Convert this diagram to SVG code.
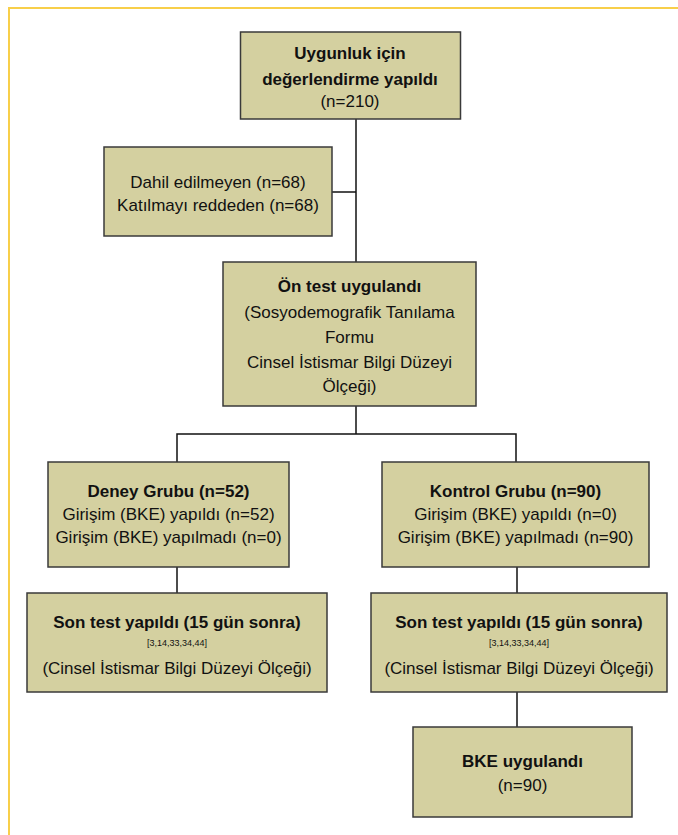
<svg xmlns="http://www.w3.org/2000/svg" width="678" height="835" viewBox="0 0 678 835">
<style>
.box{fill:#d4d0a0;stroke:#3a3a3a;stroke-width:1.5}
.t{font-family:"Liberation Sans",Arial,sans-serif;font-size:17px;fill:#111;text-anchor:middle}
.b{font-weight:bold}
.s{font-size:9px}
.c{stroke:#111;stroke-width:1.5;fill:none}
</style>
<rect width="678" height="835" fill="#fff"/>
<path d="M9 835 V8 H678" fill="none" stroke="#f8cf4a" stroke-width="2"/>
<g id="connectors">
<path class="c" d="M356 119 V262"/>
<path class="c" d="M332 192 H356"/>
<path class="c" d="M356 406 V434"/>
<path class="c" d="M177 462 V434 H516 V462"/>
<path class="c" d="M177 567 V593"/>
<path class="c" d="M517 567 V593"/>
<path class="c" d="M517 692 V727"/>
</g>
<g id="n1">
<rect class="box" x="240.5" y="32" width="220" height="87"/>
<text class="t b" x="350" y="59">Uygunluk için</text>
<text class="t b" x="350" y="85">değerlendirme yapıldı</text>
<text class="t" x="350" y="107">(n=210)</text>
</g>
<g id="n2">
<rect class="box" x="104" y="147" width="228" height="89"/>
<text class="t" x="218" y="188">Dahil edilmeyen (n=68)</text>
<text class="t" x="218" y="211">Katılmayı reddeden (n=68)</text>
</g>
<g id="n3">
<rect class="box" x="223" y="262" width="253" height="144"/>
<text class="t b" x="349.5" y="292">Ön test uygulandı</text>
<text class="t" x="349.5" y="318">(Sosyodemografik Tanılama</text>
<text class="t" x="349.5" y="343">Formu</text>
<text class="t" x="349.5" y="368">Cinsel İstismar Bilgi Düzeyi</text>
<text class="t" x="349.5" y="392">Ölçeği)</text>
</g>
<g id="n4">
<rect class="box" x="48" y="462" width="241" height="105"/>
<text class="t b" x="168.5" y="497">Deney Grubu (n=52)</text>
<text class="t" x="168.5" y="520">Girişim (BKE) yapıldı (n=52)</text>
<text class="t" x="168.5" y="543">Girişim (BKE) yapılmadı (n=0)</text>
</g>
<g id="n5">
<rect class="box" x="382" y="462" width="267" height="105"/>
<text class="t b" x="515.5" y="497">Kontrol Grubu (n=90)</text>
<text class="t" x="515.5" y="520">Girişim (BKE) yapıldı (n=0)</text>
<text class="t" x="515.5" y="543">Girişim (BKE) yapılmadı (n=90)</text>
</g>
<g id="n6">
<rect class="box" x="27" y="593" width="300" height="99"/>
<text class="t b" x="177" y="628">Son test yapıldı (15 gün sonra)</text>
<text class="t s" x="177" y="646">[3,14,33,34,44]</text>
<text class="t" x="177" y="674">(Cinsel İstismar Bilgi Düzeyi Ölçeği)</text>
</g>
<g id="n7">
<rect class="box" x="371" y="593" width="296" height="99"/>
<text class="t b" x="519" y="628">Son test yapıldı (15 gün sonra)</text>
<text class="t s" x="519" y="646">[3,14,33,34,44]</text>
<text class="t" x="519" y="674">(Cinsel İstismar Bilgi Düzeyi Ölçeği)</text>
</g>
<g id="n8">
<rect class="box" x="413" y="727" width="219" height="90"/>
<text class="t b" x="522.5" y="767">BKE uygulandı</text>
<text class="t" x="522.5" y="791">(n=90)</text>
</g>
</svg>
